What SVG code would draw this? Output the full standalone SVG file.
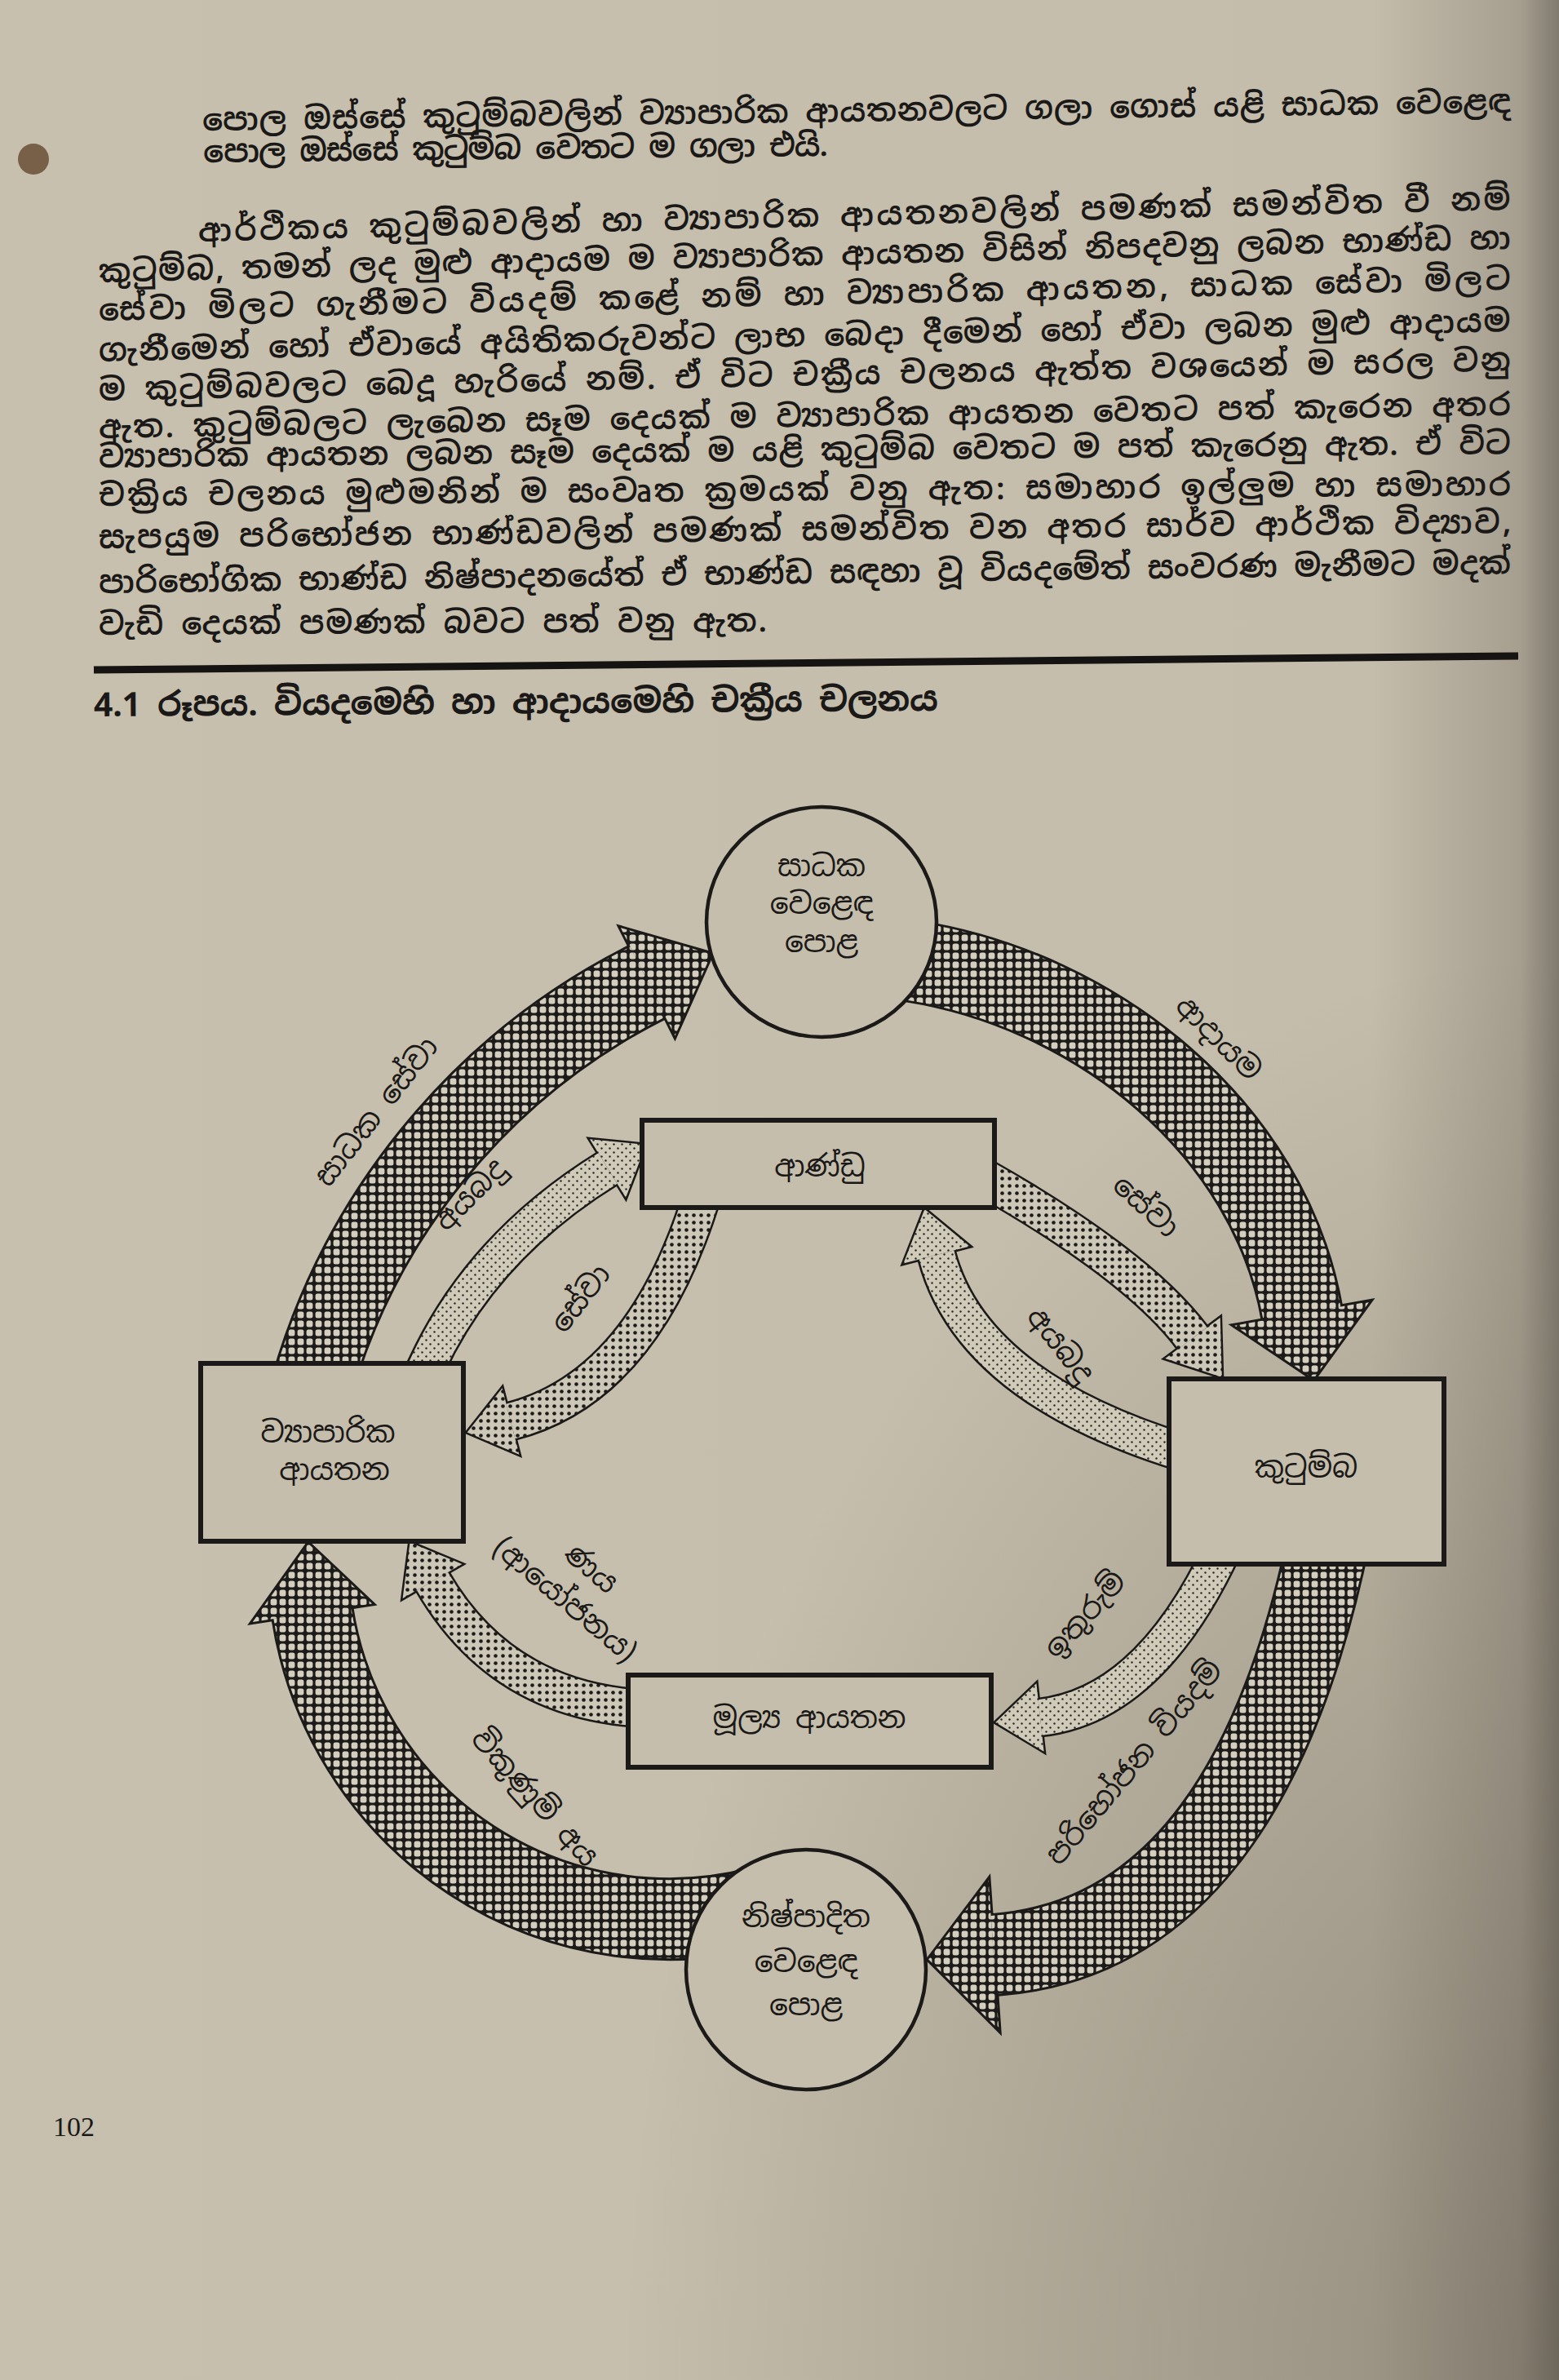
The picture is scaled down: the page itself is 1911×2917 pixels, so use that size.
<svg xmlns="http://www.w3.org/2000/svg" width="1911" height="2917" viewBox="0 0 1911 2917">
<defs>
<style>
.txt{font-family:"Noto Sans Sinhala","Noto Serif Sinhala","Iskoola Pota","Noto Sans",sans-serif;fill:#1b1917}
.body{font-size:38px;font-weight:600}
.cap{font-size:41px;font-weight:bold}
.lbl{font-size:36px;text-anchor:middle;dominant-baseline:central}
.num{font-family:"Liberation Serif",serif;font-size:34px;fill:#1b1917}
.node rect,.node circle{fill:#c5beac;stroke:#1b1a18}
.box{stroke-width:6}
.ring{stroke-width:4.5}
.ob{fill:none;stroke:#1b1a18;stroke-width:102}
.of{fill:none;stroke:url(#grid);stroke-width:96}
.hb{fill:none;stroke:#1b1a18;stroke-width:6;stroke-linejoin:miter}
.hg{fill:url(#grid)}
.ib{fill:none;stroke:#1b1a18;stroke-width:49}
.idk{fill:none;stroke:url(#dotsDark);stroke-width:44}
.ilt{fill:none;stroke:url(#dotsLight);stroke-width:44}
.hib{fill:none;stroke:#1b1a18;stroke-width:5;stroke-linejoin:miter}
.hdk{fill:url(#dotsDark)}
.hlt{fill:url(#dotsLight)}
</style>
<linearGradient id="paperX" x1="0" y1="0" x2="1" y2="0">
<stop offset="0" stop-color="#c7c0ae"/>
<stop offset="0.88" stop-color="#c4bdab"/>
<stop offset="0.975" stop-color="#a69f90"/>
<stop offset="1" stop-color="#807a6e"/>
</linearGradient>
<radialGradient id="shade" cx="1" cy="1" r="0.6">
<stop offset="0" stop-color="#554d42" stop-opacity="0.45"/>
<stop offset="1" stop-color="#554d42" stop-opacity="0"/>
</radialGradient>
<pattern id="grid" width="11" height="11" patternUnits="userSpaceOnUse">
<rect width="11" height="11" fill="#1c1b19"/>
<rect x="1.6" y="1.6" width="7.8" height="7.8" rx="2.5" fill="#d4cebe"/>
</pattern>
<pattern id="dotsDark" width="9" height="9" patternUnits="userSpaceOnUse">
<rect width="9" height="9" fill="#cdc7b7"/>
<circle cx="4.5" cy="4.5" r="2.3" fill="#1c1b19"/>
</pattern>
<pattern id="dotsLight" width="10" height="10" patternUnits="userSpaceOnUse">
<rect width="10" height="10" fill="#d0cab9"/>
<circle cx="2.5" cy="2.5" r="1.2" fill="#2a2826"/>
<circle cx="7.5" cy="7.5" r="1.2" fill="#2a2826"/>
</pattern>
<!-- outer flows -->
<path id="a1s" d="M376.4 1720.7 A804.1 804.1 0 0 1 794.1 1203.4"/>
<polygon id="a1h" points="760.9,1137.2 872,1169.3 827.3,1269.5"/>
<path id="a2s" d="M1118 1178 C1345.2 1214 1555.8 1383.5 1596 1610"/>
<polygon id="a2h" points="1513.3,1624.7 1610.2,1689.8 1678.7,1595.3"/>
<path id="a3s" d="M1630 1880 C1570 2174 1447.5 2379.9 1218 2396"/>
<polygon id="a3h" points="1211.6,2304.2 1138.2,2401.6 1224.4,2487.8"/>
<path id="a4s" d="M935 2337.1 A442.7 442.7 0 0 1 382.8 1976.7"/>
<polygon id="a4h" points="309.7,1987.9 378,1892 456,1965.5"/>
<!-- inner flows -->
<path id="i1s" d="M512 1700 Q578 1535 745 1432"/>
<polygon id="i1h" points="767.1,1467.8 791.8,1403.1 722.9,1396.2"/>
<path id="i2s" d="M862 1460 Q790 1700 626 1742"/>
<polygon id="i2h" points="615.6,1701.3 572.7,1755.6 636.4,1782.7"/>
<path id="i3s" d="M1200 1440 Q1395 1550 1462 1640"/>
<polygon id="i3h" points="1428.3,1665.1 1497.8,1688.1 1495.7,1614.9"/>
<path id="i4s" d="M1450 1780 Q1190 1700 1148 1538"/>
<polygon id="i4h" points="1188.6,1527.5 1133.4,1481.9 1107.4,1548.5"/>
<path id="i5s" d="M1500 1895 Q1410 2090 1275 2105"/>
<polygon id="i5h" points="1270.4,2063.3 1220.3,2111.1 1279.6,2146.7"/>
<path id="i6s" d="M790 2094 Q615 2085 530 1938"/>
<polygon id="i6h" points="566.4,1917 502.5,1890.4 493.6,1959"/>
</defs>

<!-- page -->
<rect width="1911" height="2917" fill="url(#paperX)"/>
<rect width="1911" height="2917" fill="url(#shade)"/>
<circle cx="41" cy="195" r="19" fill="#6a4e35" opacity="0.85"/>

<!-- body text -->
<g id="page-text" class="txt body">
<text x="248" y="160" textLength="1604" lengthAdjust="spacing" transform="rotate(-0.79 248 149)">පොල ඔස්සේ කුටුම්බවලින් ව්&#x200D;යාපාරික ආයතනවලට ගලා ගොස් යළි සාධක වෙළෙඳ</text>
<text x="248" y="199" textLength="766" lengthAdjust="spacing" transform="rotate(-0.6 248 188)">පොල ඔස්සේ කුටුම්බ වෙතට ම ගලා එයි.</text>
<text x="243" y="296" textLength="1609" lengthAdjust="spacing" transform="rotate(-1.39 243 285)">ආර්ථිකය කුටුම්බවලින් හා ව්&#x200D;යාපාරික ආයතනවලින් පමණක් සමන්විත වී නම්</text>
<text x="121" y="346" textLength="1731" lengthAdjust="spacing" transform="rotate(-1.36 121 335)">කුටුම්බ, තමන් ලද මුළු ආදායම ම ව්&#x200D;යාපාරික ආයතන විසින් නිපදවනු ලබන භාණ්ඩ හා</text>
<text x="121" y="393" textLength="1731" lengthAdjust="spacing" transform="rotate(-1.26 121 382)">සේවා මිලට ගැනීමට වියදම් කළේ නම් හා ව්&#x200D;යාපාරික ආයතන, සාධක සේවා මිලට</text>
<text x="121" y="443" textLength="1731" lengthAdjust="spacing" transform="rotate(-1.22 121 432)">ගැනීමෙන් හෝ ඒවායේ අයිතිකරුවන්ට ලාභ බෙදා දීමෙන් හෝ ඒවා ලබන මුළු ආදායම</text>
<text x="121" y="491" textLength="1731" lengthAdjust="spacing" transform="rotate(-1.22 121 480)">ම කුටුම්බවලට බෙදූ හැරියේ නම්. ඒ විට චක්&#x200D;රීය චලනය ඇත්ත වශයෙන් ම සරල වනු</text>
<text x="121" y="537" textLength="1731" lengthAdjust="spacing" transform="rotate(-0.93 121 526)">ඇත. කුටුම්බලට ලැබෙන සෑම දෙයක් ම ව්&#x200D;යාපාරික ආයතන වෙතට පත් කැරෙන අතර</text>
<text x="121" y="573" textLength="1731" lengthAdjust="spacing" transform="rotate(-0.56 121 562)">ව්&#x200D;යාපාරික ආයතන ලබන සෑම දෙයක් ම යළි කුටුම්බ වෙතට ම පත් කැරෙනු ඇත. ඒ විට</text>
<text x="121" y="620" textLength="1731" lengthAdjust="spacing" transform="rotate(-0.43 121 609)">චක්&#x200D;රිය චලනය මුළුමනින් ම සංවෘත ක්&#x200D;රමයක් වනු ඇත: සමාහාර ඉල්ලුම හා සමාහාර</text>
<text x="121" y="672" textLength="1731" lengthAdjust="spacing" transform="rotate(-0.63 121 661)">සැපයුම පරිභෝජන භාණ්ඩවලින් පමණක් සමන්විත වන අතර සාර්ව ආර්ථික විද්&#x200D;යාව,</text>
<text x="121" y="727" textLength="1731" lengthAdjust="spacing" transform="rotate(-0.79 121 716)">පාරිභෝගික භාණ්ඩ නිෂ්පාදනයේත් ඒ භාණ්ඩ සඳහා වූ වියදමේත් සංවරණ මැනීමට මදක්</text>
<text x="121" y="778" textLength="819" lengthAdjust="spacing" transform="rotate(-0.28 121 767)">වැඩි දෙයක් පමණක් බවට පත් වනු ඇත.</text>
</g>

<line x1="115" y1="821" x2="1861" y2="804" stroke="#151412" stroke-width="9"/>
<text class="txt cap" x="115" y="878" textLength="1035" lengthAdjust="spacing" transform="rotate(-0.39 115 865)">4.1 රූපය. වියදමෙහි හා ආදායමෙහි චක්&#x200D;රීය චලනය</text>

<!-- flows -->
<g id="connectors">
<g id="flow-factor-services"><use href="#a1s" class="ob"/><use href="#a1h" class="hb"/><use href="#a1s" class="of"/><use href="#a1h" class="hg"/></g>
<g id="flow-income"><use href="#a2s" class="ob"/><use href="#a2h" class="hb"/><use href="#a2s" class="of"/><use href="#a2h" class="hg"/></g>
<g id="flow-consumption"><use href="#a3s" class="ob"/><use href="#a3h" class="hb"/><use href="#a3s" class="of"/><use href="#a3h" class="hg"/></g>
<g id="flow-sales"><use href="#a4s" class="ob"/><use href="#a4h" class="hb"/><use href="#a4s" class="of"/><use href="#a4h" class="hg"/></g>
<g id="flow-firm-tax"><use href="#i1s" class="ib"/><use href="#i1h" class="hib"/><use href="#i1s" class="ilt"/><use href="#i1h" class="hlt"/></g>
<g id="flow-gov-firm"><use href="#i2s" class="ib"/><use href="#i2h" class="hib"/><use href="#i2s" class="idk"/><use href="#i2h" class="hdk"/></g>
<g id="flow-gov-home"><use href="#i3s" class="ib"/><use href="#i3h" class="hib"/><use href="#i3s" class="idk"/><use href="#i3h" class="hdk"/></g>
<g id="flow-home-tax"><use href="#i4s" class="ib"/><use href="#i4h" class="hib"/><use href="#i4s" class="ilt"/><use href="#i4h" class="hlt"/></g>
<g id="flow-savings"><use href="#i5s" class="ib"/><use href="#i5h" class="hib"/><use href="#i5s" class="ilt"/><use href="#i5h" class="hlt"/></g>
<g id="flow-loans"><use href="#i6s" class="ib"/><use href="#i6h" class="hib"/><use href="#i6s" class="idk"/><use href="#i6h" class="hdk"/></g>
<g class="txt lbl">
<text transform="translate(461 1362) rotate(-52)">සාධක සේවා</text>
<text transform="translate(1494 1272) rotate(45)">ආදායම</text>
<text transform="translate(576 1464) rotate(-45)">අයබදු</text>
<text transform="translate(711 1591) rotate(-52)">සේවා</text>
<text transform="translate(1405 1478) rotate(42)">සේවා</text>
<text transform="translate(1300 1648) rotate(52)">අයබදු</text>
<text transform="translate(725 1922) rotate(40)">ණය</text>
<text transform="translate(693 1960) rotate(40)">(ආයෝජනය)</text>
<text transform="translate(1330 1979) rotate(-48)">ඉතුරුම්</text>
<text transform="translate(1390 2160) rotate(-50)">පරිභෝජන වියදම්</text>
<text transform="translate(656 2203) rotate(48)">විකුණුම් අය</text>
</g>
</g>

<!-- nodes -->
<g id="factor-market" class="node">
<circle class="ring" cx="1007" cy="1130" r="141"/>
<text class="txt lbl" x="1007" y="1061">සාධක</text>
<text class="txt lbl" x="1007" y="1107">වෙළෙඳ</text>
<text class="txt lbl" x="1007" y="1154">පොළ</text>
</g>
<g id="product-market" class="node">
<circle class="ring" cx="988" cy="2414" r="147"/>
<text class="txt lbl" x="988" y="2349">නිෂ්පාදිත</text>
<text class="txt lbl" x="988" y="2404">වෙළෙඳ</text>
<text class="txt lbl" x="988" y="2457">පොළ</text>
</g>
<g id="firms" class="node">
<rect class="box" x="246" y="1671" width="322" height="218"/>
<text class="txt lbl" x="402" y="1755">ව්&#x200D;යාපාරික</text>
<text class="txt lbl" x="410" y="1801">ආයතන</text>
</g>
<g id="households" class="node">
<rect class="box" x="1433" y="1690" width="337" height="227"/>
<text class="txt lbl" x="1601" y="1798">කුටුම්බ</text>
</g>
<g id="government" class="node">
<rect class="box" x="787" y="1373" width="432" height="107"/>
<text class="txt lbl" x="1005" y="1429">ආණ්ඩු</text>
</g>
<g id="financial" class="node">
<rect class="box" x="770" y="2053" width="445" height="113"/>
<text class="txt lbl" x="992" y="2105">මූල්&#x200D;ය ආයතන</text>
</g>

<text class="num" x="65" y="2618">102</text>
</svg>
